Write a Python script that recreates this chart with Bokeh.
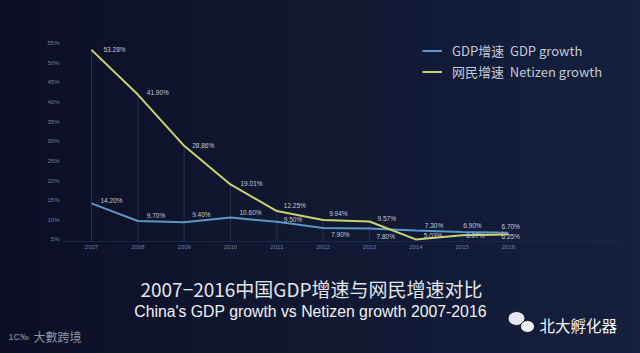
from bokeh.plotting import figure
from bokeh.layouts import column
from bokeh.models import (ColumnDataSource, Range1d, FixedTicker, PrintfTickFormatter,
                          Legend, LegendItem)
from bokeh.core.properties import value
from bokeh.embed import file_html
from bokeh.resources import INLINE

# ---- data ----
years = [2007, 2008, 2009, 2010, 2011, 2012, 2013, 2014, 2015, 2016]
gdp_growth = [14.20, 9.70, 9.40, 10.60, 9.50, 7.90, 7.80, 7.30, 6.90, 6.70]
netizen_growth = [53.28, 41.90, 28.86, 19.01, 12.25, 9.94, 9.57, 5.03, 6.07, 6.25]
y_ticks = [5, 10, 15, 20, 25, 30, 35, 40, 45, 50, 55]

title_cn = "2007−2016中国GDP增速与网民增速对比"
title_en = "China's GDP growth vs Netizen growth 2007-2016"

# label placement (screen pixel offsets)
net_dx = [12, 9, 8, 10, 7, 6, 8, 8, 4, -7]
net_dy = [0, -2, 0, -1, -6, -7, -3, -4, 0, 2]
gdp_dx = [9, 9, 8, 9, 7, 8, 7, 9, 1, -7]
gdp_dy = [-3, -6, -8, -5, -2, 6, 8, -5, -7, -6]

BG = "#10162e"
BG_GRAD = "linear-gradient(90deg, #0b0e25 0%, #10162f 35%, #121b36 70%, #16203c 100%)"
GDP_C = "#5a98c8"
NET_C = "#cdd36c"
TXT = "#c3cad8"
AX = "#6a82a6"

p = figure(width=640, height=253, output_backend="svg", toolbar_location=None,
           x_range=Range1d(2006.396, 2018.418), y_range=Range1d(4.49, 58.22),
           min_border_left=63, min_border_right=20, min_border_top=30, min_border_bottom=12,
           background_fill_color=None, border_fill_color=None, outline_line_color=None)
p.frame_align = False
p.grid.visible = False

p.yaxis.ticker = FixedTicker(ticks=y_ticks)
p.yaxis.formatter = PrintfTickFormatter(format="%d%%")
p.yaxis.axis_line_color = None
p.yaxis.major_tick_line_color = None
p.yaxis.minor_tick_line_color = None
p.yaxis.major_tick_out = 0
p.yaxis.major_label_text_color = AX
p.yaxis.major_label_text_font = "Liberation Sans"
p.yaxis.major_label_text_font_size = "6px"
p.yaxis.major_label_standoff = 4

p.xaxis.ticker = FixedTicker(ticks=years)
p.xaxis.axis_line_color = "#1c2644"
p.xaxis.major_tick_line_color = None
p.xaxis.minor_tick_line_color = None
p.xaxis.major_tick_out = 0
p.xaxis.major_label_text_color = AX
p.xaxis.major_label_text_font = "Liberation Sans"
p.xaxis.major_label_text_font_size = "6px"
p.xaxis.major_label_standoff = 3

src = ColumnDataSource(dict(year=years, gdp=gdp_growth, net=netizen_growth,
                            base=[y_ticks[0] - 1] * len(years),
                            gdp_lab=["%.2f%%" % v for v in gdp_growth],
                            net_lab=["%.2f%%" % v for v in netizen_growth],
                            net_dx=net_dx, net_dy=net_dy, gdp_dx=gdp_dx, gdp_dy=gdp_dy))

p.segment(x0="year", y0="base", x1="year", y1="net", source=src,
          line_color="#2a3858", line_width=1, line_alpha=0.8)

r_gdp = p.line("year", "gdp", source=src, line_color=GDP_C, line_width=2)
r_net = p.line("year", "net", source=src, line_color=NET_C, line_width=2)

p.text(x="year", y="net", text="net_lab", source=src, x_offset="net_dx", y_offset="net_dy",
       text_align="left", text_baseline="middle", text_color=TXT,
       text_font_size="6.5px", text_font=value("Liberation Sans"))
p.text(x="year", y="gdp", text="gdp_lab", source=src, x_offset="gdp_dx", y_offset="gdp_dy",
       text_align="left", text_baseline="middle", text_color=TXT,
       text_font_size="6.5px", text_font=value("Liberation Sans"))

legend = Legend(items=[LegendItem(label="GDP增速  GDP growth", renderers=[r_gdp]),
                       LegendItem(label="网民增速  Netizen growth", renderers=[r_net])],
                location=(359, 160), orientation="vertical",
                background_fill_alpha=0, border_line_alpha=0,
                label_text_color=TXT, label_text_font="Noto Sans CJK SC",
                label_text_font_size="13px", glyph_width=20, glyph_height=17,
                label_height=17, label_standoff=10, spacing=2, padding=0, margin=0)
p.add_layout(legend)

# ---- caption strip below the chart (pixel space, y downward) ----
q = figure(width=640, height=100, output_backend="svg", toolbar_location=None,
           x_range=Range1d(0, 640), y_range=Range1d(100, 0),
           x_axis_type=None, y_axis_type=None, min_border=0,
           background_fill_color=None, border_fill_color=None, outline_line_color=None)
q.frame_align = False
q.grid.visible = False

q.text(x=[311], y=[35], text=[title_cn], text_align="center", text_baseline="middle",
       text_color="#e2e6ee", text_font=value("Noto Sans CJK SC"), text_font_size="19px")
q.text(x=[310], y=[58], text=[title_en], text_align="center", text_baseline="middle",
       text_color="#eef0f4", text_font=value("Liberation Sans"), text_font_size="15.8px")
q.text(x=[8], y=[83], text=["1C‰"], text_align="left", text_baseline="middle",
       text_color="#8d93a6", text_font=value("Liberation Sans"), text_font_size="9px")
q.text(x=[33], y=[83], text=["大數跨境"], text_align="left", text_baseline="middle",
       text_color="#8d93a6", text_font=value("Noto Sans CJK SC"), text_font_size="12px")
# wechat-like bubbles
q.ellipse(x=[516, 527], y=[65, 73], width=[17, 14], height=[14, 12],
          fill_color=["#e6e8ee", "#f2f3f6"], line_color=BG, line_width=1)
q.text(x=[539], y=[71], text=["北大孵化器"], text_align="left", text_baseline="middle",
       text_color="#f2f3f6", text_font=value("Noto Sans CJK SC"), text_font_size="15.5px")

layout = column(p, q, spacing=0, styles={"background": BG_GRAD})
open("out.html", "w").write(file_html(layout, INLINE))
